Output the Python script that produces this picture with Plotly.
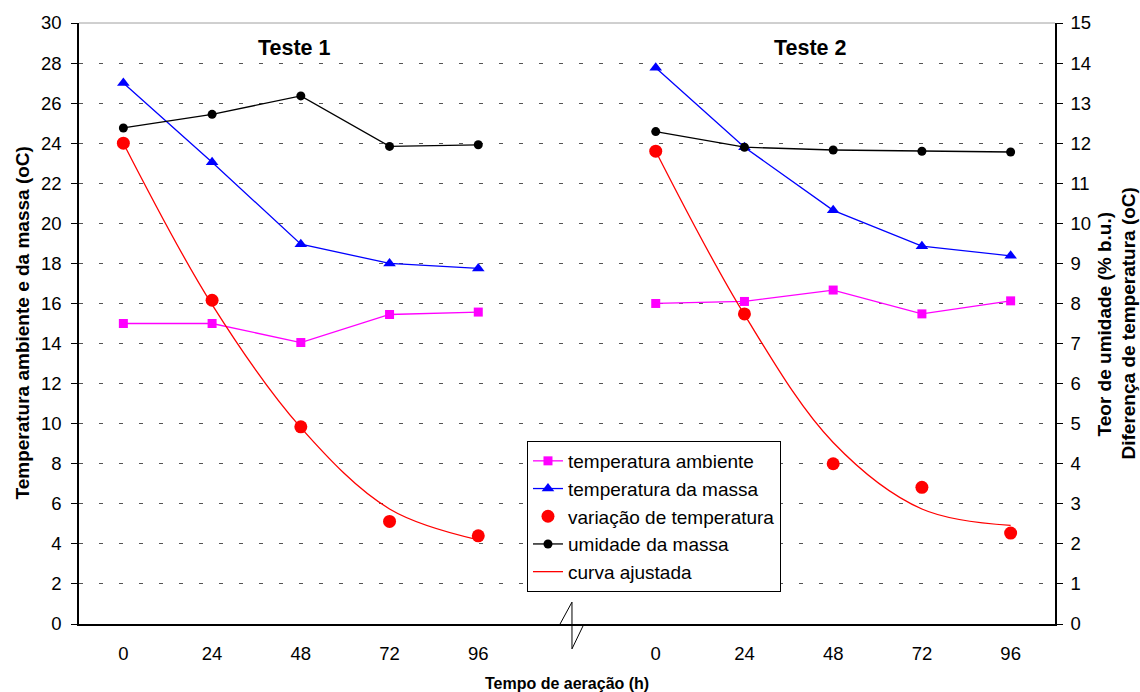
import plotly.graph_objects as go

# Aeration time labels (two tests side by side, one empty slot between them)
horas = ["0", "24", "48", "72", "96"]
pos_teste1 = [0, 1, 2, 3, 4]
pos_teste2 = [6, 7, 8, 9, 10]

# Teste 1
t_amb_1 = [15.0, 15.0, 14.05, 15.45, 15.57]
t_massa_1 = [27.0, 23.05, 18.96, 18.0, 17.75]
var_temp_1 = [12.0, 8.08, 4.92, 2.56, 2.2]
umid_1 = [12.38, 12.72, 13.18, 11.92, 11.96]
curva_1 = [12.0, 7.97, 4.9, 2.87, 2.1]

# Teste 2
t_amb_2 = [16.0, 16.1, 16.67, 15.48, 16.13]
t_massa_2 = [27.77, 23.8, 20.65, 18.86, 18.38]
var_temp_2 = [11.8, 7.74, 4.0, 3.41, 2.27]
umid_2 = [12.29, 11.9, 11.83, 11.8, 11.78]
curva_2 = [11.8, 7.72, 4.53, 2.87, 2.46]

xs = pos_teste1 + [5] + pos_teste2


def join(a, b):
    return list(a) + [None] + list(b)


FONT = "Liberation Sans, Arial, sans-serif"

fig = go.Figure()

fig.add_trace(go.Scatter(
    x=xs, y=join(t_amb_1, t_amb_2), name="temperatura ambiente",
    mode="lines+markers", line=dict(color="#FF00FF", width=1.3),
    marker=dict(symbol="square", size=9, color="#FF00FF"),
    connectgaps=False, yaxis="y"))
fig.add_trace(go.Scatter(
    x=xs, y=join(t_massa_1, t_massa_2), name="temperatura da massa",
    mode="lines+markers", line=dict(color="#0000FF", width=1.3),
    marker=dict(symbol="triangle-up", size=11, color="#0000FF"),
    connectgaps=False, yaxis="y"))
fig.add_trace(go.Scatter(
    x=xs, y=join(var_temp_1, var_temp_2), name="variação de temperatura",
    mode="markers", marker=dict(symbol="circle", size=13, color="#FF0000"),
    yaxis="y2"))
fig.add_trace(go.Scatter(
    x=xs, y=join(umid_1, umid_2), name="umidade da massa",
    mode="lines+markers", line=dict(color="#000000", width=1.3),
    marker=dict(symbol="circle", size=9, color="#000000"),
    connectgaps=False, yaxis="y2"))
fig.add_trace(go.Scatter(
    x=xs, y=join(curva_1, curva_2), name="curva ajustada",
    mode="lines", line=dict(color="#FF0000", width=1.3, shape="spline"),
    connectgaps=False, yaxis="y2"))

# category boundaries for the tick marks
limites = [i - 0.5 for i in range(12)]

fig.update_layout(
    width=1140, height=692,
    margin=dict(l=79, r=85, t=20, b=68),
    paper_bgcolor="white", plot_bgcolor="white",
    font=dict(family=FONT, size=18.5, color="black"),
    showlegend=True,
    legend=dict(
        x=0.459, y=0.3045, xanchor="left", yanchor="top",
        bgcolor="white", bordercolor="black", borderwidth=1,
        font=dict(family=FONT, size=19, color="black"),
        tracegroupgap=0, itemwidth=30,
    ),
    xaxis=dict(
        range=[-0.5, 10.5], tickmode="array",
        tickvals=pos_teste1 + pos_teste2, ticktext=horas + horas,
        ticks="", ticklabelstandoff=12,
        showgrid=False, zeroline=False,
        showline=True, linecolor="black", linewidth=1.5,
        tickfont=dict(size=18.5),
    ),
    xaxis2=dict(
        range=[-0.5, 10.5], overlaying="x", anchor="y", side="bottom",
        tickmode="array", tickvals=limites, showticklabels=False,
        ticks="outside", ticklen=7, tickwidth=1, tickcolor="black",
        showgrid=False, zeroline=False, showline=False,
    ),
    yaxis=dict(
        range=[0, 30], dtick=2, tick0=0,
        ticks="outside", ticklen=6, tickcolor="black", ticklabelstandoff=6,
        showgrid=True, gridcolor="#555555", griddash="4px,16px", gridwidth=1,
        zeroline=False, showline=True, linecolor="black", linewidth=1.5,
        tickfont=dict(size=18.5),
    ),
    yaxis2=dict(
        range=[0, 15], dtick=1, tick0=0, overlaying="y", side="right",
        anchor="x",
        ticks="outside", ticklen=6, tickcolor="black", ticklabelstandoff=4,
        showgrid=False, zeroline=False,
        showline=True, linecolor="black", linewidth=1.5,
        tickfont=dict(size=18.5),
    ),
)

# top frame line and the axis break mark
fig.add_shape(type="line", xref="paper", yref="paper", x0=0, x1=1, y0=1, y1=1,
              line=dict(color="#a0a0a0", width=1))
fig.add_shape(type="path", xref="paper", yref="paper",
              path="M 0.4918,-0.0033 L 0.5051,0.0364 L 0.5051,-0.0414 L 0.5164,-0.0033",
              line=dict(color="black", width=1))

titulo = dict(family=FONT, size=21.5, color="black")
for txt, xp in (("Teste 1", 0.2213), ("Teste 2", 0.749)):
    fig.add_annotation(text=f"<b>{txt}</b>", xref="paper", yref="paper",
                       x=xp, y=0.9586, xanchor="center", yanchor="middle",
                       showarrow=False, font=titulo)

eixo = dict(family=FONT, size=19, color="black")
for txt, xp in (("Temperatura ambiente e da massa (oC)", -0.0584),
                ("Teor de umidade (% b.u.)", 1.0512),
                ("Diferença de temperatura (oC)", 1.0758)):
    fig.add_annotation(text=f"<b>{txt}</b>", xref="paper", yref="paper",
                       x=xp, y=0.5, xanchor="center", yanchor="middle",
                       textangle=-90, showarrow=False, font=eixo)
fig.add_annotation(text="<b>Tempo de aeração (h)</b>",
                   xref="paper", yref="paper", x=0.5, y=-0.0993,
                   xanchor="center", yanchor="middle",
                   showarrow=False, font=dict(family=FONT, size=16, color="black"))

fig.write_html("out.html")
